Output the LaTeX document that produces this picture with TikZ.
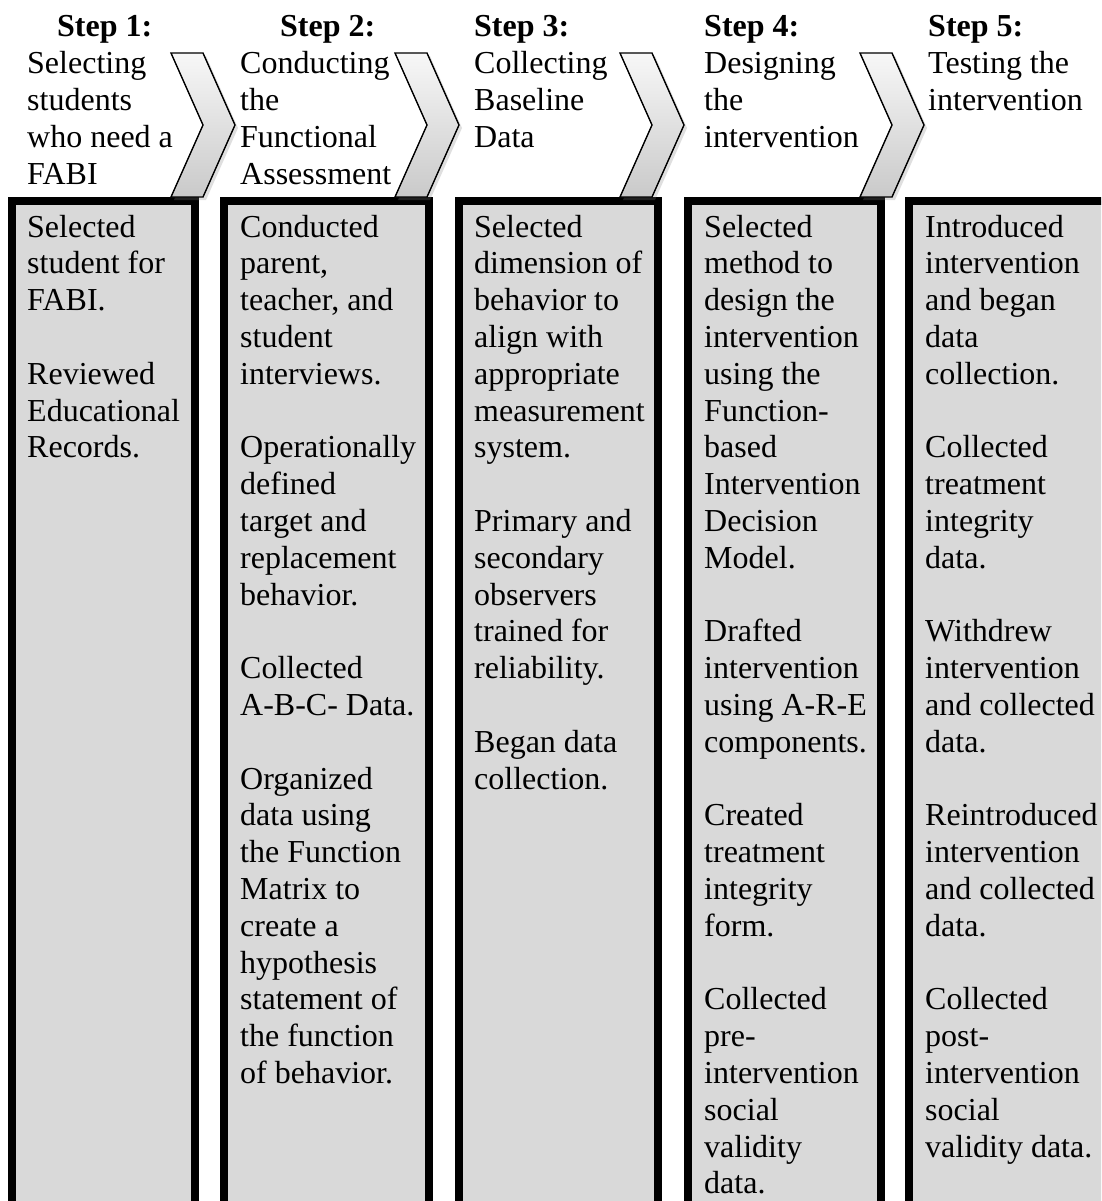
\documentclass[tikz,border=0pt]{standalone}
\usepackage{fontspec}
\setmainfont{Liberation Serif}
\usetikzlibrary{shadows}
\definecolor{boxgray}{HTML}{D9D9D9}
\tikzset{
  colbox/.style={draw=black, line width=8pt, fill=boxgray},
  chev/.style={draw=black, line width=1.4pt, top color=gray!6, bottom color=gray!42,
    drop shadow={opacity=0.25, shadow xshift=3pt, shadow yshift=-3pt}},
  txt/.style={anchor=base west, inner sep=0pt, font=\fontsize{32pt}{36.8pt}\selectfont},
}
\newcommand{\colt}[1]{\parbox[t]{300pt}{\raggedright\fontsize{32pt}{36.8pt}\selectfont #1}}
\begin{document}
\begin{tikzpicture}[x=1pt,y=-1pt]
\clip (0,0) rectangle (1101,1201);
\fill[white] (0,0) rectangle (1101,1201);
% boxes
\draw[colbox] (12,201) rectangle (195,1240);
\draw[colbox] (224,201) rectangle (429,1240);
\draw[colbox] (459,201) rectangle (658,1240);
\draw[colbox] (688,201) rectangle (881,1240);
\draw[colbox] (909,201) rectangle (1130,1240);
% chevrons
\foreach \x in {171,395,620,860}{
  \draw[chev] (\x,53) -- (\x+32,53) -- (\x+64,125) -- (\x+32,197) -- (\x,197) -- (\x+32,125) -- cycle;
}
% headers
\node[txt] (h1t) at (57,37) {\bfseries Step 1:};
\node[txt] (h1) at (27,37) {\colt{\mbox{}\\Selecting\\students\\who need a\\FABI}};
\node[txt] (h2t) at (280,37) {\bfseries Step 2:};
\node[txt] (h2) at (240,37) {\colt{\mbox{}\\Conducting\\the\\Functional\\Assessment}};
\node[txt] (h3) at (474,37) {\colt{\textbf{Step 3:}\\Collecting\\Baseline\\Data}};
\node[txt] (h4) at (704,37) {\colt{\textbf{Step 4:}\\Designing\\the\\intervention}};
\node[txt] (h5) at (928,37) {\colt{\textbf{Step 5:}\\Testing the\\intervention}};
% box texts
\node[txt] (b1) at (27,237) {\colt{Selected\\student for\\FABI.\\[36.8pt]Reviewed\\Educational\\Records.}};
\node[txt] (b2) at (240,237) {\colt{Conducted\\parent,\\teacher, and\\student\\interviews.\\[36.8pt]Operationally\\defined\\target and\\replacement\\behavior.\\[36.8pt]Collected\\A-B-C- Data.\\[36.8pt]Organized\\data using\\the Function\\Matrix to\\create a\\hypothesis\\statement of\\the function\\of behavior.}};
\node[txt] (b3) at (474,237) {\colt{Selected\\dimension of\\behavior to\\align with\\appropriate\\measurement\\system.\\[36.8pt]Primary and\\secondary\\observers\\trained for\\reliability.\\[36.8pt]Began data\\collection.}};
\node[txt] (b4) at (704,237) {\colt{Selected\\method to\\design the\\intervention\\using the\\Function-\\based\\Intervention\\Decision\\Model.\\[36.8pt]Drafted\\intervention\\using A-R-E\\components.\\[36.8pt]Created\\treatment\\integrity\\form.\\[36.8pt]Collected\\pre-\\intervention\\social\\validity\\data.}};
\node[txt] (b5) at (925,237) {\colt{Introduced\\intervention\\and began\\data\\collection.\\[36.8pt]Collected\\treatment\\integrity\\data.\\[36.8pt]Withdrew\\intervention\\and collected\\data.\\[36.8pt]Reintroduced\\intervention\\and collected\\data.\\[36.8pt]Collected\\post-\\intervention\\social\\validity data.}};
\end{tikzpicture}
\end{document}
